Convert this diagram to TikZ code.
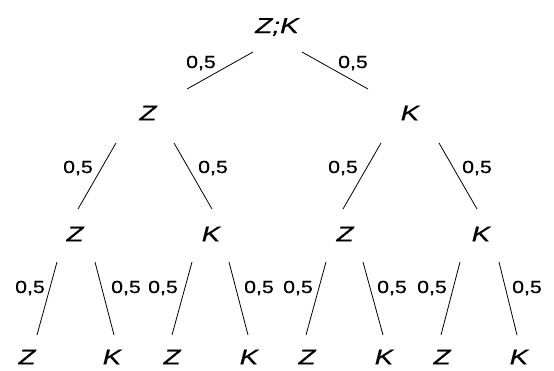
\documentclass[tikz,border=0pt]{standalone}
\usepackage{fontspec}
\setmainfont{Liberation Sans}
\newfontfamily\treefont{Liberation Sans}[FakeBold=0.35]
\usepackage{graphicx}
% wide lettering: horizontal stretch of the text
\newcommand{\widetxt}[1]{\scalebox{1.3}[1]{#1}}
\newcommand{\widenum}[1]{\scalebox{1.22}[1]{#1}}
\tikzset{
  outcome/.style={font=\treefont\fontsize{21.5}{25}\selectfont\itshape, inner sep=0pt},
  prob/.style={font=\treefont\fontsize{17.5}{21}\selectfont, inner sep=0pt},
  branch/.style={line width=0.8pt, black}
}
\begin{document}
\begin{tikzpicture}[x=1pt, y=-1pt]
  \useasboundingbox (0,0) rectangle (554,370);

  % outcomes
  \node[outcome] (r)  at (277,27) {\widetxt{Z;K}};
  \node[outcome] (a)  at (148,113) {\widetxt{Z}};
  \node[outcome] (b)  at (410,113) {\widetxt{K}};
  \node[outcome] (aa) at (75,234)  {\widetxt{Z}};
  \node[outcome] (ab) at (211,234) {\widetxt{K}};
  \node[outcome] (ba) at (345,234) {\widetxt{Z}};
  \node[outcome] (bb) at (481,234) {\widetxt{K}};
  \node[outcome] (l1) at (27,357)  {\widetxt{Z}};
  \node[outcome] (l2) at (112,357) {\widetxt{K}};
  \node[outcome] (l3) at (172,357) {\widetxt{Z}};
  \node[outcome] (l4) at (249,357) {\widetxt{K}};
  \node[outcome] (l5) at (307,357) {\widetxt{Z}};
  \node[outcome] (l6) at (384,357) {\widetxt{K}};
  \node[outcome] (l7) at (442,357) {\widetxt{Z}};
  \node[outcome] (l8) at (519,357) {\widetxt{K}};

  % branches
  \draw[branch] ([shift={(-24,25)}]r.center) -- ([shift={(39,-24)}]a.center);
  \draw[branch] ([shift={(25,25)}]r.center) -- ([shift={(-42,-24)}]b.center);

  \draw[branch] ([shift={(-32,30)}]a.center) -- ([shift={(3,-25)}]aa.center);
  \draw[branch] ([shift={(26,30)}]a.center) -- ([shift={(1,-25)}]ab.center);
  \draw[branch] ([shift={(-29,30)}]b.center) -- ([shift={(-2,-25)}]ba.center);
  \draw[branch] ([shift={(29,30)}]b.center) -- ([shift={(-4,-25)}]bb.center);

  \draw[branch] ([shift={(-18,28)}]aa.center) -- ([shift={(10,-22)}]l1.center);
  \draw[branch] ([shift={(20,28)}]aa.center) -- ([shift={(2,-22)}]l2.center);
  \draw[branch] ([shift={(-19,28)}]ab.center) -- ([shift={(0,-22)}]l3.center);
  \draw[branch] ([shift={(18,28)}]ab.center) -- ([shift={(-1,-22)}]l4.center);
  \draw[branch] ([shift={(-19,28)}]ba.center) -- ([shift={(-1,-22)}]l5.center);
  \draw[branch] ([shift={(18,28)}]ba.center) -- ([shift={(-1,-22)}]l6.center);
  \draw[branch] ([shift={(-21,28)}]bb.center) -- ([shift={(-1,-22)}]l7.center);
  \draw[branch] ([shift={(18,28)}]bb.center) -- ([shift={(-2,-22)}]l8.center);

  % probabilities
  \node[prob] (p1)  at (201,63)  {\widenum{0,5}};
  \node[prob] (p2)  at (353,63)  {\widenum{0,5}};
  \node[prob] (p3)  at (78,168)  {\widenum{0,5}};
  \node[prob] (p4)  at (213,168) {\widenum{0,5}};
  \node[prob] (p5)  at (343,168) {\widenum{0,5}};
  \node[prob] (p6)  at (477,168) {\widenum{0,5}};
  \node[prob] (p7)  at (30,288)  {\widenum{0,5}};
  \node[prob] (p8)  at (126,288) {\widenum{0,5}};
  \node[prob] (p9)  at (163,288) {\widenum{0,5}};
  \node[prob] (p10) at (259,288) {\widenum{0,5}};
  \node[prob] (p11) at (298,288) {\widenum{0,5}};
  \node[prob] (p12) at (392,288) {\widenum{0,5}};
  \node[prob] (p13) at (432,288) {\widenum{0,5}};
  \node[prob] (p14) at (527,288) {\widenum{0,5}};
\end{tikzpicture}
\end{document}
